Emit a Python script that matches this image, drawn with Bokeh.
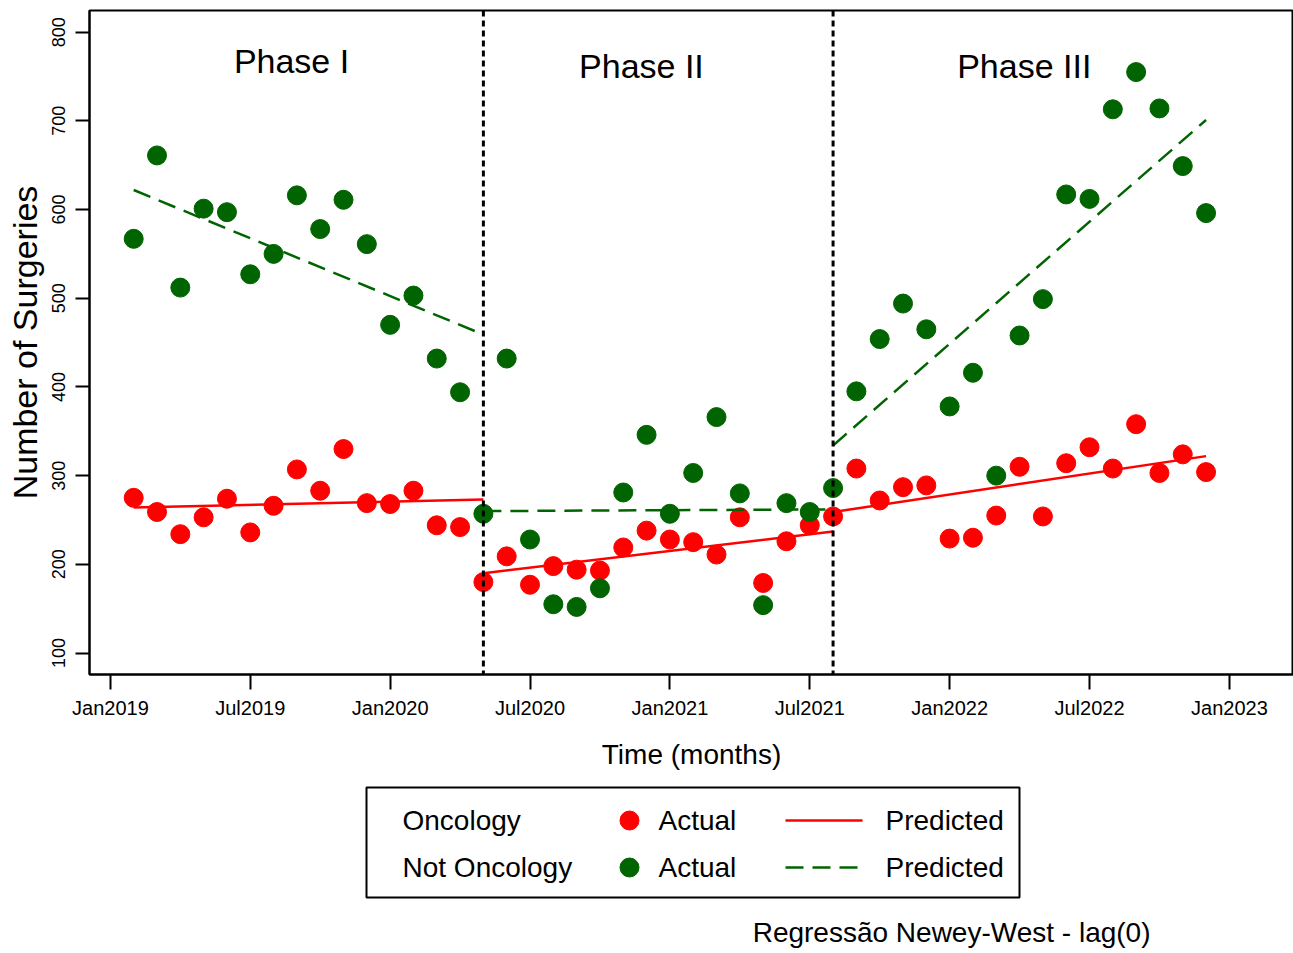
import pandas as pd
from bokeh.plotting import figure
from bokeh.models import Range1d, FixedTicker, Span, Label, ColumnDataSource
from bokeh.layouts import column
from bokeh.core.properties import value
from bokeh.embed import file_html
from bokeh.resources import INLINE

# ---------------- data ----------------
months = pd.period_range("2019-02", "2022-12", freq="M")

oncology = [275, 259, 234, 253, 274, 236, 266, 307, 283, 330, 269, 268, 283, 244, 242,
            180, 209, 177, 198, 194, 193, 219, 238, 228, 225, 211, 253, 179, 226, 244,
            254, 308, 272, 287, 289, 229, 230, 255, 310, 254, 314, 332, 308, 358, 303, 324, 304]

not_oncology = [567, 661, 512, 601, 597, 527, 550, 616, 578, 611, 561, 470, 503, 432, 394,
                257, 432, 228, 155, 152, 173, 281, 346, 257, 303, 366, 280, 154, 269, 259,
                286, 395, 454, 494, 465, 378, 416, 300, 458, 499, 617, 612, 713, 755, 714, 649, 596]

phase_names = ["Phase I", "Phase II", "Phase III"]
phase_breaks = ["2020-05", "2021-08"]
segment_start = ["2019-02", "2020-05", "2021-08"]
segment_end = ["2020-05", "2021-08", "2022-12"]
onc_pred_start = [264, 190, 259]
onc_pred_end = [273, 237, 322]
non_pred_start = [622, 260, 334]
non_pred_end = [459, 262, 701]

tick_labels = ["Jan2019", "Jul2019", "Jan2020", "Jul2020", "Jan2021",
               "Jul2021", "Jan2022", "Jul2022", "Jan2023"]
y_ticks = [100, 200, 300, 400, 500, 600, 700, 800]

group_names = ["Oncology", "Not Oncology"]
actual_label = "Actual"
predicted_label = "Predicted"
note = "Regressão Newey-West - lag(0)"

RED = "#FF0000"
GREEN = "#006400"
FONT = "Liberation Sans"


def midx(p):
    p = pd.Period(p, freq="M")
    return (p.year - 2019) * 12 + p.month - 1


x = [midx(m) for m in months]
tick_pos = [6 * i for i in range(len(tick_labels))]

# ---------------- main plot ----------------
p = figure(width=1293, height=772, output_backend="svg", toolbar_location=None,
           x_range=Range1d(-0.896, 50.75), y_range=Range1d(75.8, 824.4),
           min_border_left=89, min_border_right=0, min_border_top=10, min_border_bottom=95)
p.background_fill_color = "white"
p.border_fill_color = "white"
p.outline_line_color = "black"
p.outline_line_width = 2
p.xgrid.visible = False
p.ygrid.visible = False

for ax in (p.xaxis[0], p.yaxis[0]):
    ax.axis_line_width = 2
    ax.axis_line_color = "black"
    ax.major_tick_line_width = 2
    ax.major_tick_line_color = "black"
    ax.major_tick_in = 0
    ax.minor_tick_line_color = None
    ax.major_label_text_font = FONT
    ax.axis_label_text_font = FONT
    ax.axis_label_text_font_style = "normal"
    ax.axis_label_text_color = "black"
    ax.major_label_text_color = "black"

p.xaxis.ticker = FixedTicker(ticks=tick_pos)
p.xaxis.major_label_overrides = {t: l for t, l in zip(tick_pos, tick_labels)}
p.xaxis.major_tick_out = 15
p.xaxis.major_label_text_font_size = "20px"
p.xaxis.major_label_standoff = 7
p.xaxis.axis_label = "Time (months)"
p.xaxis.axis_label_text_font_size = "28px"
p.xaxis.axis_label_standoff = 17

p.yaxis.ticker = FixedTicker(ticks=y_ticks)
p.yaxis.major_tick_out = 14
p.yaxis.major_label_orientation = "vertical"
p.yaxis.major_label_text_font_size = "18px"
p.yaxis.major_label_standoff = 10
p.yaxis.axis_label = "Number of Surgeries"
p.yaxis.axis_label_text_font_size = "34px"
p.yaxis.axis_label_standoff = 6

for b in phase_breaks:
    p.add_layout(Span(location=midx(b), dimension="height", line_color="black",
                      line_width=3, line_dash="6 4"))

src = ColumnDataSource(dict(x=x, onc=oncology, non=not_oncology))
p.scatter("x", "onc", source=src, size=19, fill_color=RED, line_color=RED)
p.scatter("x", "non", source=src, size=19, fill_color=GREEN, line_color=GREEN)

for s, e, a, b in zip(segment_start, segment_end, onc_pred_start, onc_pred_end):
    p.line([midx(s), midx(e)], [a, b], line_color=RED, line_width=2.5)
for s, e, a, b in zip(segment_start, segment_end, non_pred_start, non_pred_end):
    p.line([midx(s), midx(e)], [a, b], line_color=GREEN, line_width=2.5, line_dash="18 9")

phase_x = [7.77, 22.78, 39.2]
phase_y = [767, 761.5, 761.5]
for name, px, py in zip(phase_names, phase_x, phase_y):
    p.add_layout(Label(x=px, y=py, text=name, text_align="center", text_baseline="alphabetic",
                       text_font=FONT, text_font_size="34px", text_color="black"))

# ---------------- legend panel (data units = page pixels) ----------------
lg = figure(width=1293, height=180, output_backend="svg", toolbar_location=None,
            x_range=Range1d(89, 1293), y_range=Range1d(0, 180),
            x_axis_location=None, y_axis_location=None,
            min_border_left=89, min_border_right=0, min_border_top=0, min_border_bottom=0)
lg.outline_line_color = None
lg.xgrid.visible = False
lg.ygrid.visible = False
lg.background_fill_color = "white"
lg.border_fill_color = "white"

lg.quad(left=366, right=1019, bottom=55, top=165, fill_color=None,
        line_color="black", line_width=2)

row_y = [132, 85]
colors = [RED, GREEN]
dashes = ["solid", "18 9"]
lg.text(x=[402] * 2, y=row_y, text=group_names, text_font=value(FONT),
        text_font_size=value("28px"), text_baseline="middle", text_color="black")
lg.scatter(x=[629] * 2, y=row_y, size=19, fill_color=colors, line_color=colors)
lg.text(x=[658] * 2, y=row_y, text=[actual_label] * 2, text_font=value(FONT),
        text_font_size=value("28px"), text_baseline="middle", text_color="black")
for yy, c, d in zip(row_y, colors, dashes):
    lg.line([785, 862], [yy, yy], line_color=c, line_width=2.5, line_dash=d)
lg.text(x=[885] * 2, y=row_y, text=[predicted_label] * 2, text_font=value(FONT),
        text_font_size=value("28px"), text_baseline="middle", text_color="black")

lg.text(x=[1150], y=[20], text=[note], text_font=value(FONT),
        text_font_size=value("28px"), text_align="right", text_baseline="alphabetic",
        text_color="black")

layout = column(p, lg)
open("out.html", "w").write(file_html(layout, INLINE))
